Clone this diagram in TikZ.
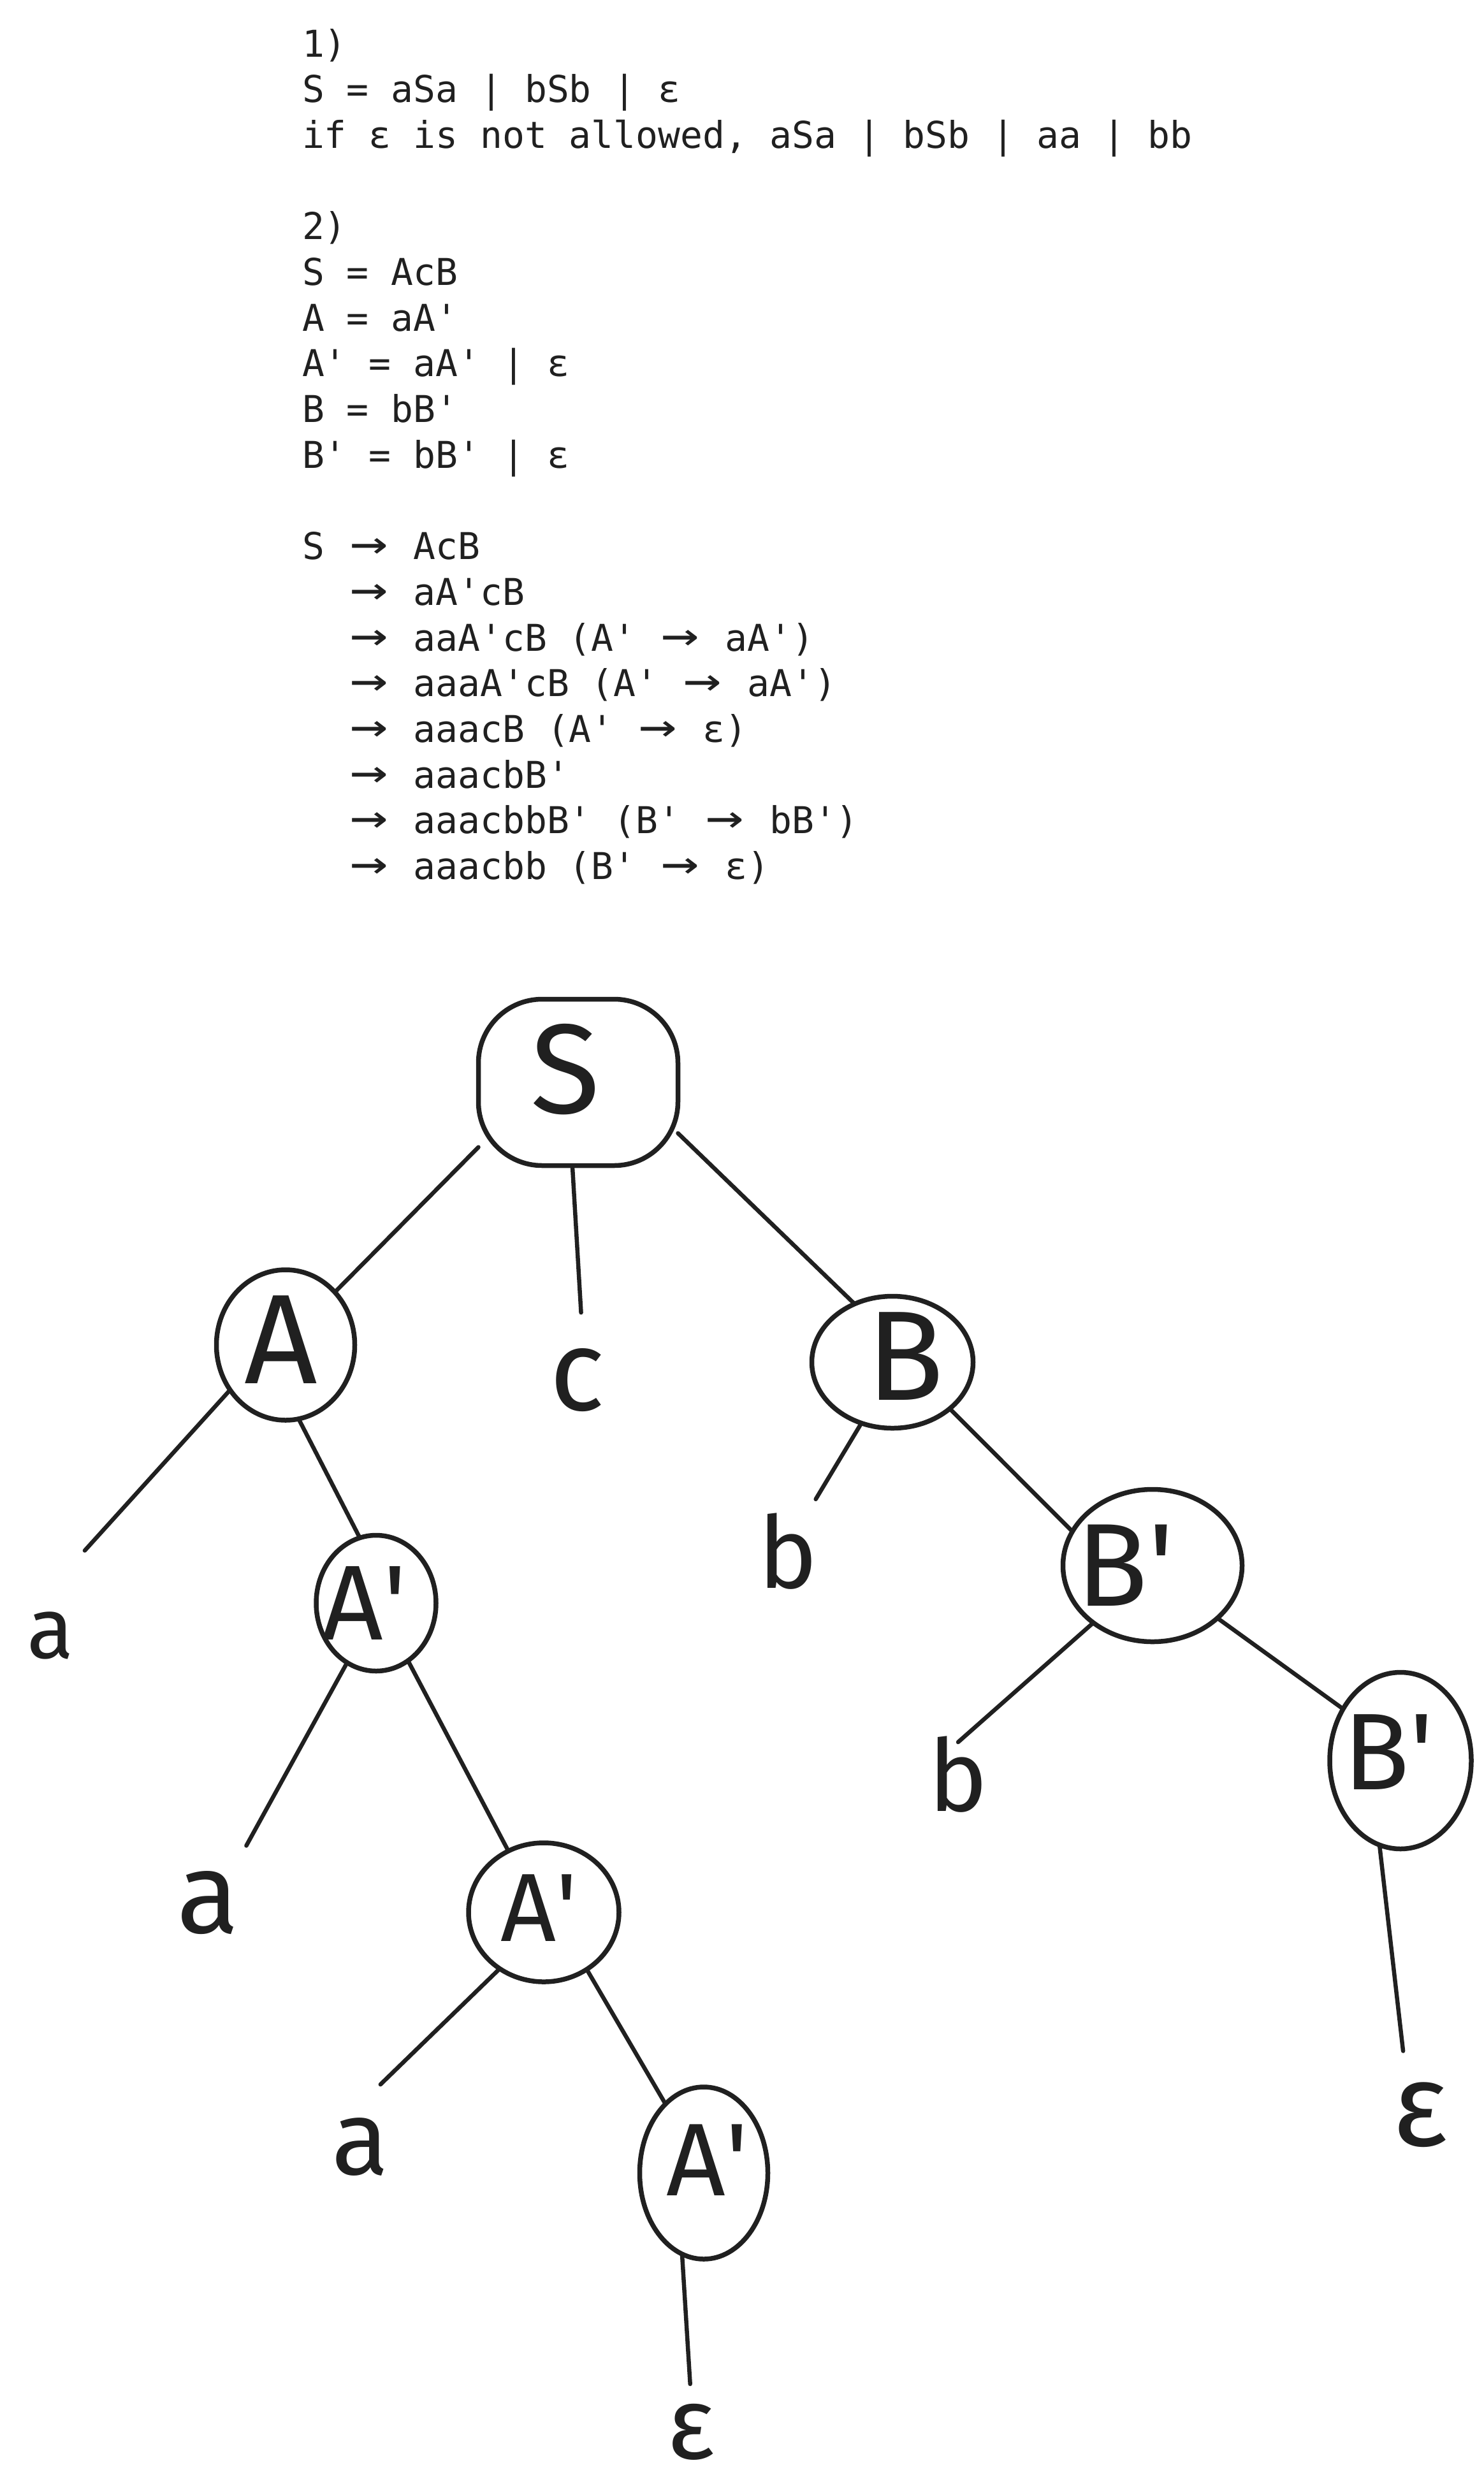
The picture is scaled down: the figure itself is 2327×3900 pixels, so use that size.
\documentclass[tikz,border=0pt]{standalone}
\usepackage{fontspec}
\usepackage{graphicx}
\usetikzlibrary{shapes.geometric}
\newfontfamily\codefont{DejaVu Sans Mono}
\newfontfamily\hand{Fira Sans}
\definecolor{inkc}{RGB}{32,32,32}
\newcommand\apos{\textquotesingle}
\newcommand\arr{\makebox[69.8pt][c]{\scalebox{1.7}[1.3]{→}}}
\tikzset{
  code/.style={anchor=base west, inner sep=0pt, outer sep=0pt, text=inkc,
    font=\codefont\fontsize{58}{72}\selectfont},
  blob/.style={rectangle, rounded corners=100pt, draw=inkc, line width=7.5pt,
    inner sep=0pt, outer sep=0pt},
  tnode/.style={ellipse, draw=inkc, line width=7.5pt, inner sep=0pt, outer sep=0pt},
  leaf/.style={circle, inner sep=0pt, outer sep=0pt, minimum size=#1},
  lab/.style={text=inkc, font=\hand\fontsize{#1}{#1}\selectfont},
  edge/.style={draw=inkc, line width=6.5pt, line cap=round},
}
\begin{document}
\begin{tikzpicture}[x=1pt,y=-1pt]
\fill[white] (0,0) rectangle (2327,3900);
\useasboundingbox (0,0) rectangle (2327,3900);

% ---- text ----
\node[code] (t0)  at (474,89.0)   {1)};
\node[code] (t1)  at (474,160.7)  {S = aSa | bSb | ε};
\node[code] (t2)  at (474,232.4)  {if ε is not allowed, aSa | bSb | aa | bb};
\node[code] (t4)  at (474,375.8)  {2)};
\node[code] (t5)  at (474,447.5)  {S = AcB};
\node[code] (t6)  at (474,519.2)  {A = aA\apos};
\node[code] (t7)  at (474,590.9)  {A\apos{} = aA\apos{} | ε};
\node[code] (t8)  at (474,662.6)  {B = bB\apos};
\node[code] (t9)  at (474,734.3)  {B\apos{} = bB\apos{} | ε};
\node[code] (t11) at (474,877.7)  {S \arr{} AcB};
\node[code] (t12) at (543.8,949.4)  {\arr{} aA\apos cB};
\node[code] (t13) at (543.8,1021.1) {\arr{} aaA\apos cB (A\apos{} \arr{} aA\apos)};
\node[code] (t14) at (543.8,1092.8) {\arr{} aaaA\apos cB (A\apos{} \arr{} aA\apos)};
\node[code] (t15) at (543.8,1164.5) {\arr{} aaacB (A\apos{} \arr{} ε)};
\node[code] (t16) at (543.8,1236.2) {\arr{} aaacbB\apos};
\node[code] (t17) at (543.8,1307.9) {\arr{} aaacbbB\apos{} (B\apos{} \arr{} bB\apos)};
\node[code] (t18) at (543.8,1379.6) {\arr{} aaacbb (B\apos{} \arr{} ε)};

% ---- tree nodes ----
\node[blob, minimum width=313pt, minimum height=261pt,
  label={[lab=200pt, xshift=-20pt, yshift=20pt]center:S}] (S) at (907,1698) {};
\node[tnode, minimum width=217pt, minimum height=236pt,
  label={[lab=200pt, xshift=-7pt, yshift=8pt]center:A}] (A) at (448,2110) {};
\node[tnode, minimum width=253pt, minimum height=207pt,
  label={[lab=200pt, xshift=20pt, yshift=9pt]center:B}] (B) at (1400,2137) {};
\node[tnode, minimum width=188pt, minimum height=213pt,
  label={[lab=167pt, xshift=-18pt]center:A\apos}] (Ap2) at (590,2515) {};
\node[tnode, minimum width=281pt, minimum height=239pt,
  label={[lab=185pt, xshift=-43pt]center:B\apos}] (Bp2) at (1808,2456) {};
\node[tnode, minimum width=236pt, minimum height=218pt,
  label={[lab=152pt, xshift=-7pt, yshift=7pt]center:A\apos}] (Ap3) at (853,3000) {};
\node[tnode, minimum width=222pt, minimum height=277pt,
  label={[lab=171pt, xshift=-19pt, yshift=13pt]center:B\apos}] (Bp3) at (2197,2762) {};
\node[tnode, minimum width=201pt, minimum height=270pt,
  label={[lab=162pt, xshift=6pt, yshift=20pt]center:A\apos}] (Ap4) at (1104,3409) {};

% ---- leaves ----
\node[leaf=212pt, label={[lab=180pt]center:c}] (c) at (906,2165) {};
\node[leaf=288pt, label={[lab=135pt]center:a}] (a1) at (79,2566) {};
\node[leaf=186pt, label={[lab=157pt]center:b}] (b1) at (1236,2434) {};
\node[leaf=216pt, label={[lab=180pt]center:a}] (a2) at (326,2985) {};
\node[leaf=102pt, label={[lab=157pt]center:b}] (b2) at (1503,2784) {};
\node[leaf=206pt, label={[lab=165pt]center:a}] (a3) at (565,3368) {};
\node[leaf=208pt, label={[lab=185pt]center:ε}] (e1) at (2228,3318) {};
\node[leaf=150pt, label={[lab=160pt]center:ε}] (e2) at (1084,3815) {};

% ---- connectors ----
\draw[edge] (S.213) -- (A.47);
\draw[edge] (S.266) -- (c.87);
\draw[edge] (S.333) -- (B.123);
\draw[edge] (A.219) -- (a1.68);
\draw[edge] (A.280) -- (Ap2.104);
\draw[edge] (B.243) -- (b1.62);
\draw[edge] (B.321) -- (Bp2.157);
\draw[edge] (Ap2.244) -- (a2.56);
\draw[edge] (Ap2.299) -- (Ap3.120);
\draw[edge] (Bp2.224) -- (b2.90);
\draw[edge] (Bp2.321) -- (Bp3.138);
\draw[edge] (Ap3.232) -- (a3.72);
\draw[edge] (Ap3.307) -- (Ap4.119);
\draw[edge] (Ap4.255) -- (e2.91);
\draw[edge] (Bp3.256) -- (e1.105);
\end{tikzpicture}
\end{document}
